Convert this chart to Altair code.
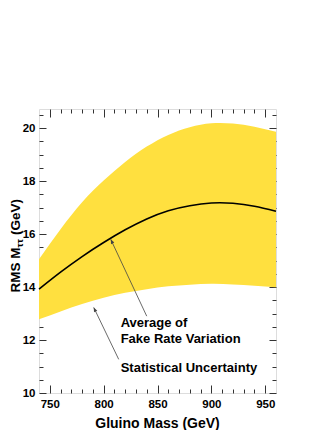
import altair as alt
import pandas as pd

# ---- data ----
mass = [740, 760, 780, 800, 820, 840, 860, 880, 900, 920, 940, 960]
band_low = [12.78, 13.08, 13.36, 13.60, 13.78, 13.92, 14.03, 14.09, 14.12, 14.10, 14.05, 13.99]
band_high = [15.05, 16.18, 17.20, 18.02, 18.72, 19.30, 19.74, 20.03, 20.18, 20.17, 20.05, 19.86]
avg_rms = [13.92, 14.56, 15.15, 15.68, 16.16, 16.57, 16.88, 17.07, 17.17, 17.16, 17.05, 16.86]

x_major = [750, 800, 850, 900, 950]
x_minor = [760, 770, 780, 790, 810, 820, 830, 840, 860, 870, 880, 890, 910, 920, 930, 940]
y_major = [10, 12, 14, 16, 18, 20]
y_minor = [10.5, 11, 11.5, 12.5, 13, 13.5, 14.5, 15, 15.5, 16.5, 17, 17.5, 18.5, 19, 19.5, 20.5]

note_text = ["Average of", "Fake Rate Variation", "Statistical Uncertainty"]
note_x = [815.8, 815.8, 815.8]
note_y = [12.50, 11.875, 10.80]

arrow_tail_x = [840.0, 814.0]
arrow_tail_y = [12.90, 11.27]
arrow_head_x = [806.6, 790.8]
arrow_head_y = [15.80, 13.23]

x_title = "Gluino Mass (GeV)"
y_title_parts = ["RMS M", "ττ", "(GeV)"]

# ---- styles ----
FONT = "Liberation Sans"
YELLOW = "#FFE03F"
FRAME = "#333333"
ARROW_ANGLE = [334.6, 334.3]

band_df = pd.DataFrame({"mass": mass, "lo": band_low, "hi": band_high, "avg": avg_rms})
notes_df = pd.DataFrame({"x": note_x, "y": note_y, "t": note_text})
arrows_df = pd.DataFrame({"tx": arrow_tail_x, "ty": arrow_tail_y,
                          "hx": arrow_head_x, "hy": arrow_head_y, "ang": ARROW_ANGLE})
one_row = pd.DataFrame({"k": [0]})

xs = alt.Scale(domain=[740, 960], nice=False, zero=False)
ys = alt.Scale(domain=[10, 20.72], nice=False, zero=False)


def ax(orient, values, size, labels=False, **kw):
    return alt.Axis(orient=orient, values=values, tickSize=size, offset=-size,
                    domain=False, grid=False, labels=labels, tickColor=FRAME,
                    tickWidth=1, labelFont=FONT, labelFontWeight="bold",
                    labelFontSize=11.5, labelColor="black", labelFlush=False,
                    labelOverlap=False, title="", **kw)


band = alt.Chart(band_df).mark_area(color=YELLOW, opacity=1, interpolate="natural").encode(
    x=alt.X("mass:Q", scale=xs, axis=ax("bottom", x_major, 8, labels=True, labelPadding=5)),
    y=alt.Y("lo:Q", scale=ys, axis=ax("left", y_major, 7, labels=True, labelPadding=4)),
    y2="hi:Q",
)

line = alt.Chart(band_df).mark_line(color="black", strokeWidth=1.6, interpolate="natural").encode(
    x=alt.X("mass:Q", scale=xs, axis=ax("top", x_major, 8)),
    y=alt.Y("avg:Q", scale=ys, axis=ax("right", y_major, 7)),
)

arrow_lines = alt.Chart(arrows_df).mark_rule(color="#444444", strokeWidth=0.8).encode(
    x=alt.X("tx:Q", scale=xs, axis=ax("bottom", x_minor, 4)),
    y=alt.Y("ty:Q", scale=ys, axis=ax("left", y_minor, 4)),
    x2="hx:Q",
    y2="hy:Q",
)

arrow_heads = alt.Chart(arrows_df).mark_point(
    shape="M0,0 L-0.4,1 L0.4,1 Z", filled=True, color="#444444", opacity=1, size=80
).encode(
    x=alt.X("hx:Q", scale=xs, axis=ax("top", x_minor, 4)),
    y=alt.Y("hy:Q", scale=ys, axis=ax("right", y_minor, 4)),
    angle=alt.Angle("ang:Q", scale=None),
)

notes = alt.Chart(notes_df).mark_text(
    align="left", baseline="alphabetic", font=FONT, fontWeight="bold", fontSize=13, color="black"
).encode(
    x=alt.X("x:Q", scale=xs, axis=None),
    y=alt.Y("y:Q", scale=ys, axis=None),
    text="t:N",
)


def label(txt, px, py, size, angle=0, align="left"):
    return alt.Chart(one_row).mark_text(
        align=align, baseline="alphabetic", angle=angle, font=FONT,
        fontWeight="bold", fontSize=size, color="black"
    ).encode(x=alt.value(px), y=alt.value(py), text=alt.value(txt))


yt1 = label(y_title_parts[0], -19, 183.5, 13.5, angle=270)
yt2 = label(y_title_parts[1], -16.5, 138.5, 9.5, angle=270)
yt3 = label(y_title_parts[2], -19, 126, 13.5, angle=270)
xt = label(x_title, 118.5, 319, 14, align="center")

chart = alt.layer(band, line, arrow_lines, arrow_heads, notes, yt1, yt2, yt3, xt).resolve_axis(
    x="independent", y="independent"
).properties(
    width=237, height=284,
    autosize=alt.AutoSizeParams(type="none"),
    padding={"left": 31, "top": 101, "right": 48, "bottom": 40},
).configure_view(
    stroke=FRAME, strokeWidth=1
).configure(background="white")

chart.save("out.html", embed_options={"renderer": "svg", "actions": False})
